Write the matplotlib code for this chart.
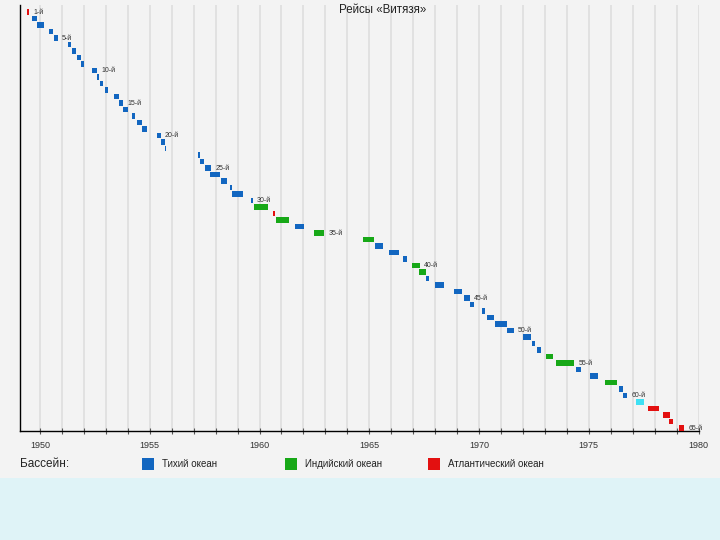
import matplotlib
matplotlib.use("Agg")
import matplotlib.pyplot as plt
from matplotlib.patches import Rectangle

plt.rcParams['font.family'] = ['Liberation Sans', 'DejaVu Sans']

title = "Рейсы «Витязя»"
voyages = list(range(1, 66))
starts = [1949.41, 1949.64, 1949.86, 1950.41, 1950.64, 1951.28, 1951.46, 1951.69, 1951.87, 1952.37,
          1952.60, 1952.73, 1952.96, 1953.37, 1953.60, 1953.78, 1954.19, 1954.42, 1954.65, 1955.33,
          1955.51, 1955.69, 1957.20, 1957.29, 1957.52, 1957.75, 1958.25, 1958.66, 1958.75, 1959.61,
          1959.75, 1960.61, 1960.75, 1961.62, 1962.48, 1964.72, 1965.26, 1965.90, 1966.54, 1966.95,
          1967.27, 1967.59, 1968.00, 1968.86, 1969.32, 1969.59, 1970.14, 1970.36, 1970.73, 1971.28,
          1972.00, 1972.41, 1972.64, 1973.05, 1973.51, 1974.42, 1975.06, 1975.74, 1976.38, 1976.56,
          1977.15, 1977.70, 1978.38, 1978.66, 1979.11]
ends = [1949.50, 1949.86, 1950.18, 1950.59, 1950.82, 1951.41, 1951.64, 1951.87, 1952.00, 1952.60,
        1952.69, 1952.87, 1953.10, 1953.60, 1953.78, 1954.01, 1954.33, 1954.65, 1954.87, 1955.51,
        1955.69, 1955.76, 1957.27, 1957.47, 1957.79, 1958.20, 1958.52, 1958.75, 1959.25, 1959.70,
        1960.39, 1960.71, 1961.34, 1962.03, 1962.94, 1965.22, 1965.63, 1966.36, 1966.72, 1967.31,
        1967.59, 1967.72, 1968.41, 1969.23, 1969.59, 1969.77, 1970.27, 1970.68, 1971.28, 1971.59,
        1972.37, 1972.55, 1972.82, 1973.37, 1974.33, 1974.65, 1975.42, 1976.29, 1976.56, 1976.74,
        1977.52, 1978.20, 1978.70, 1978.84, 1979.34]
oceans = (['A'] + ['P'] * 29 + ['I', 'A', 'I', 'P', 'I', 'I'] + ['P'] * 3 + ['I', 'I'] +
          ['P'] * 12 + ['I', 'I', 'P', 'P', 'I', 'P', 'P', 'S', 'A', 'A', 'A', 'A'])

legend_labels = ["Тихий океан", "Индийский океан", "Атлантический океан"]
legend_codes = ['P', 'I', 'A']
legend_title = "Бассейн:"
year_ticks = list(range(1950, 1981))
year_labels = [str(y) if y % 5 == 0 else "" for y in year_ticks]

colors = {'P': '#1266c0', 'I': '#17a817', 'A': '#e31010', 'S': '#3ee0f4'}

fig = plt.figure(figsize=(7.2, 5.4), dpi=100)
fig.patch.set_facecolor('#f3f3f3')
fig.patches.append(Rectangle((0, 0), 1, 62 / 540, transform=fig.transFigure,
                             facecolor='#dff3f7', edgecolor='none', zorder=0))

ax = fig.add_axes([20 / 720, 1 - 431 / 540, 679 / 720, 426 / 540])
ax.set_facecolor('#f3f3f3')
ax.set_xlim(1949.09, 1980.02)
ax.set_ylim(65 + 3 / 6.5, 1 - 7 / 6.5)

for v, s, e, o in zip(voyages, starts, ends, oceans):
    ax.barh(v, e - s, left=s, height=0.8, color=colors[o], edgecolor='none', zorder=3)
    if v == 1 or v % 5 == 0:
        ax.annotate(f"{v}-й", xy=(e, v), xytext=(3, 0), textcoords='offset points',
                    fontsize=5, va='center', ha='left', color='#333333', zorder=4)

ax.set_xticks(year_ticks)
ax.set_xticklabels(year_labels, fontsize=6.5, color='#333333')
ax.tick_params(axis='x', direction='inout', length=5, width=0.8, pad=5, color='#555555')
ax.set_yticks([])
ax.grid(axis='x', color='#e0e0e0', linewidth=1.3, zorder=0)
for sp in ['top', 'right']:
    ax.spines[sp].set_visible(False)
ax.spines['left'].set_color('black')
ax.spines['bottom'].set_color('black')
ax.spines['left'].set_linewidth(1)
ax.spines['bottom'].set_linewidth(1)

fig.text(383 / 720, 1 - 10 / 540, title, ha='center', va='center', fontsize=8.3, color='#222222')

ly = 1 - 464 / 540
fig.text(20 / 720, ly, legend_title, ha='left', va='center', fontsize=8.5, color='#222222')
sq_x = [142, 285, 428]
for x0, code, lab in zip(sq_x, legend_codes, legend_labels):
    fig.patches.append(Rectangle((x0 / 720, 1 - 470 / 540), 12 / 720, 12 / 540,
                                 transform=fig.transFigure, facecolor=colors[code],
                                 edgecolor='none'))
    fig.text((x0 + 20) / 720, ly, lab, ha='left', va='center', fontsize=7, color='#222222')

fig.savefig('out.png', dpi=100, facecolor=fig.get_facecolor())
